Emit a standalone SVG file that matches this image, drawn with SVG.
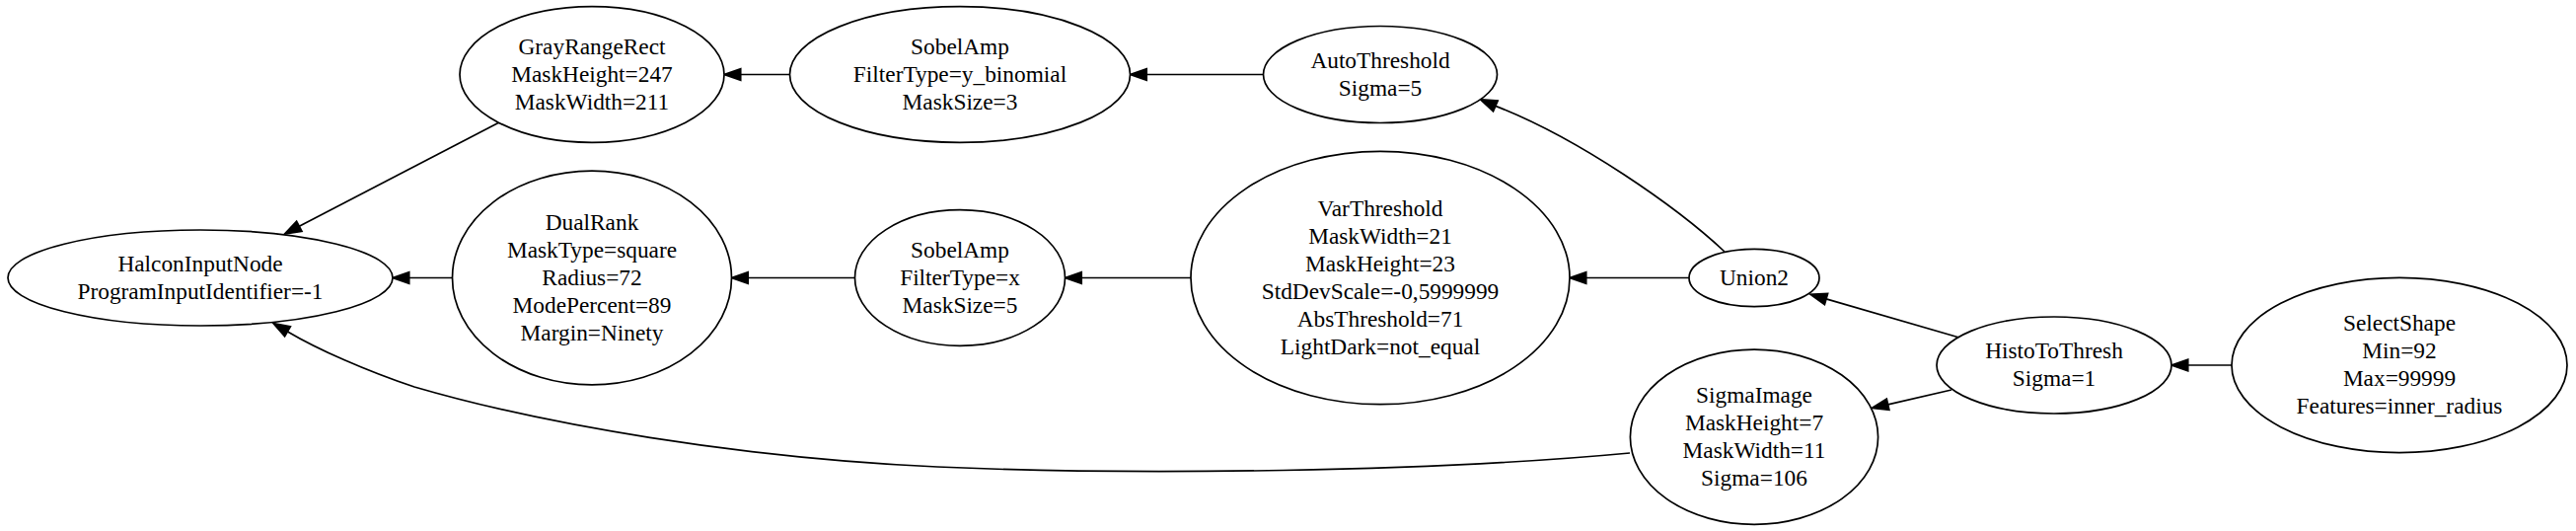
<svg xmlns="http://www.w3.org/2000/svg" width="2611" height="538" viewBox="0 0 2611 538">
<style>
.n ellipse{fill:#fff;stroke:#000;stroke-width:1.7}
.n text{font-family:"Liberation Serif","Times New Roman",serif;font-size:23.33px;fill:#000;text-anchor:middle}
.e path{fill:none;stroke:#000;stroke-width:1.7}
.e polygon{fill:#000;stroke:#000;stroke-width:1.7}
</style>
<rect width="2611" height="538" fill="#fff"/>
<g id="edges" class="e">
<path d="M506,124 L303.3,229.3"/><polygon points="306,234.4 300.6,224.2 288.5,237"/>
<path d="M458.5,281.5 L414.7,281.5"/><polygon points="414.7,275.7 414.7,287.3 398,281.5"/>
<path d="M1652,459 C1450,478 1150,482 950,473 C750,464 550,430 420,392 C372,376 322,354 291.5,335.9"/><polygon points="294.4,330.8 288.6,340.9 277,327.5"/>
<path d="M800.5,75.5 L750.7,75.5"/><polygon points="750.7,69.7 750.7,81.3 734,75.5"/>
<path d="M1280.5,75.5 L1162.2,75.5"/><polygon points="1162.2,69.7 1162.2,81.3 1145.5,75.5"/>
<path d="M866.5,281.5 L758.2,281.5"/><polygon points="758.2,275.7 758.2,287.3 741.5,281.5"/>
<path d="M1207,281.5 L1096.2,281.5"/><polygon points="1096.2,275.7 1096.2,287.3 1079.5,281.5"/>
<path d="M1712,281.5 L1607.7,281.5"/><polygon points="1607.7,275.7 1607.7,287.3 1591,281.5"/>
<path d="M1748,255 C1700,210 1600,140 1515.8,107.4"/><polygon points="1518.1,102.1 1513.5,112.7 1500.5,100.7"/>
<path d="M1985,341.7 L1851,302.9"/><polygon points="1852.6,297.4 1849.4,308.5 1835,298.3"/>
<path d="M1978,395 L1913.6,409.8"/><polygon points="1914.9,415.4 1912.3,404.1 1897.3,413.5"/>
<path d="M2262,370 L2217.7,370"/><polygon points="2217.7,364.2 2217.7,375.8 2201,370"/>
</g>
<g id="HalconInputNode" class="n"><ellipse cx="203" cy="281.5" rx="195" ry="48.5"/><text x="203" y="274.5">HalconInputNode</text><text x="203" y="302.5">ProgramInputIdentifier=-1</text></g>
<g id="GrayRangeRect" class="n"><ellipse cx="600" cy="75.5" rx="134" ry="68.8"/><text x="600" y="54.5">GrayRangeRect</text><text x="600" y="82.5">MaskHeight=247</text><text x="600" y="110.5">MaskWidth=211</text></g>
<g id="DualRank" class="n"><ellipse cx="600" cy="281.5" rx="141.5" ry="108.4"/><text x="600" y="232.5">DualRank</text><text x="600" y="260.5">MaskType=square</text><text x="600" y="288.5">Radius=72</text><text x="600" y="316.5">ModePercent=89</text><text x="600" y="344.5">Margin=Ninety</text></g>
<g id="SobelAmp1" class="n"><ellipse cx="973" cy="75.5" rx="172.5" ry="68.8"/><text x="973" y="54.5">SobelAmp</text><text x="973" y="82.5">FilterType=y_binomial</text><text x="973" y="110.5">MaskSize=3</text></g>
<g id="SobelAmp2" class="n"><ellipse cx="973" cy="281.5" rx="106.5" ry="68.8"/><text x="973" y="260.5">SobelAmp</text><text x="973" y="288.5">FilterType=x</text><text x="973" y="316.5">MaskSize=5</text></g>
<g id="AutoThreshold" class="n"><ellipse cx="1399" cy="75.5" rx="118.5" ry="49"/><text x="1399" y="68.5">AutoThreshold</text><text x="1399" y="96.5">Sigma=5</text></g>
<g id="VarThreshold" class="n"><ellipse cx="1399" cy="281.5" rx="192" ry="128.2"/><text x="1399" y="218.5">VarThreshold</text><text x="1399" y="246.5">MaskWidth=21</text><text x="1399" y="274.5">MaskHeight=23</text><text x="1399" y="302.5">StdDevScale=-0,5999999</text><text x="1399" y="330.5">AbsThreshold=71</text><text x="1399" y="358.5">LightDark=not_equal</text></g>
<g id="Union2" class="n"><ellipse cx="1778" cy="281.5" rx="66" ry="29.2"/><text x="1778" y="288.5">Union2</text></g>
<g id="SigmaImage" class="n"><ellipse cx="1778" cy="442.7" rx="125.6" ry="88.6"/><text x="1778" y="407.7">SigmaImage</text><text x="1778" y="435.7">MaskHeight=7</text><text x="1778" y="463.7">MaskWidth=11</text><text x="1778" y="491.7">Sigma=106</text></g>
<g id="HistoToThresh" class="n"><ellipse cx="2082" cy="370" rx="119" ry="49"/><text x="2082" y="363">HistoToThresh</text><text x="2082" y="391">Sigma=1</text></g>
<g id="SelectShape" class="n"><ellipse cx="2432" cy="370" rx="170" ry="88.6"/><text x="2432" y="335">SelectShape</text><text x="2432" y="363">Min=92</text><text x="2432" y="391">Max=99999</text><text x="2432" y="419">Features=inner_radius</text></g>
</svg>
